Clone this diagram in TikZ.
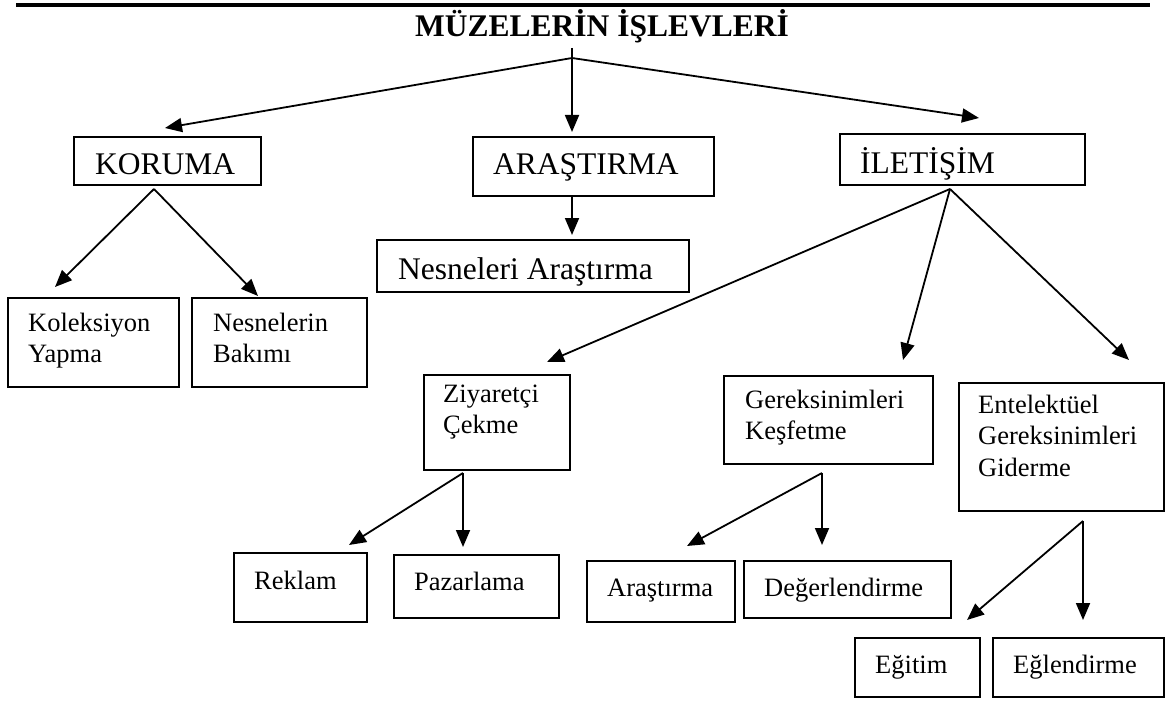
\documentclass[tikz,border=0pt]{standalone}
\usepackage{fontspec}
\setmainfont{Liberation Serif}
\usetikzlibrary{arrows.meta}
\newcommand{\lines}[1]{\begin{tabular}[t]{@{}l@{}}#1\end{tabular}}
\begin{document}
\begin{tikzpicture}[x=1pt,y=-1pt,
  box/.style={draw, line width=1.8pt, inner sep=0pt, anchor=north west},
  big/.style={inner sep=0pt, anchor=base west, font=\fontsize{31.5}{36}\selectfont},
  small/.style={inner sep=0pt, anchor=base west, font=\fontsize{26.5}{31.5}\selectfont},
  arr/.style={line width=1.8pt, -{Triangle[length=17pt,width=14pt]}},
  ln/.style={line width=1.8pt}]
\useasboundingbox (0,0) rectangle (1167,706);
% top rule
\coordinate (r1) at (16,5);
\coordinate (r2) at (1150,5);
\draw[line width=3.2pt] (r1) -- (r2);
% title
\node[inner sep=0pt, anchor=base west, font=\fontsize{31.5}{36}\selectfont\bfseries] (title) at (415,37) {MÜZELERİN İŞLEVLERİ};
% level-1 boxes
\node[box, minimum width=187pt, minimum height=48pt] (koruma) at (73,136) {};
\node[big] (tkoruma) at (95,174) {KORUMA};
\node[box, minimum width=241pt, minimum height=59pt] (arastirma) at (472,136) {};
\node[big] (tarastirma) at (493,175) {ARAŞTIRMA};
\node[box, minimum width=245pt, minimum height=51pt] (iletisim) at (839,133) {};
\node[big] (tiletisim) at (860,173) {İLETİŞİM};
\node[box, minimum width=312pt, minimum height=52pt] (nesara) at (376,239) {};
\node[big] (tnesara) at (398,279) {Nesneleri Araştırma};
% title connectors
\coordinate (top) at (572,48);
\coordinate (a0) at (572,58);
\coordinate (tk) at (165,128);
\coordinate (ta) at (572,132);
\coordinate (ti) at (979,118);
\draw[arr] (top) -- (ta);
\draw[arr] (a0) -- (tk);
\draw[arr] (a0) -- (ti);
% araştırma -> nesneleri
\coordinate (ab) at (572,195);
\coordinate (tn) at (572,235);
\draw[arr] (ab) -- (tn);
% koruma children
\node[box, minimum width=171pt, minimum height=89pt] (kol) at (7,297) {};
\node[small] (tkol) at (28,331) {\lines{Koleksiyon\\Yapma}};
\node[box, minimum width=175pt, minimum height=89pt] (bak) at (191,297) {};
\node[small] (tbak) at (213,331) {\lines{Nesnelerin\\Bakımı}};
\coordinate (ak) at (154,189);
\coordinate (tkol1) at (55,287);
\coordinate (tbak1) at (258,296);
\draw[arr] (ak) -- (tkol1);
\draw[arr] (ak) -- (tbak1);
% iletisim children
\node[box, minimum width=146pt, minimum height=95pt] (ziy) at (423,374) {};
\node[small] (tziy) at (443,402) {\lines{Ziyaretçi\\Çekme}};
\node[box, minimum width=209pt, minimum height=88pt] (ger) at (723,375) {};
\node[small] (tger) at (745,408) {\lines{Gereksinimleri\\Keşfetme}};
\node[box, minimum width=205pt, minimum height=128pt] (ent) at (958,382) {};
\node[small] (tent) at (978,413) {\lines{Entelektüel\\Gereksinimleri\\Giderme}};
\coordinate (ai) at (950,189);
\coordinate (tz) at (547,362);
\coordinate (tg) at (903,360);
\coordinate (te) at (1129,360);
\draw[arr] (ai) -- (tz);
\draw[arr] (ai) -- (tg);
\draw[arr] (ai) -- (te);
% ziyaretci children
\node[box, minimum width=133pt, minimum height=69pt] (rek) at (233,552) {};
\node[small] (trek) at (254,589) {Reklam};
\node[box, minimum width=165pt, minimum height=63pt] (paz) at (393,554) {};
\node[small] (tpaz) at (414,590) {Pazarlama};
\coordinate (az) at (463,473);
\coordinate (tr) at (349,545);
\coordinate (tp) at (463,547);
\draw[arr] (az) -- (tr);
\draw[arr] (az) -- (tp);
% gereksinimleri children
\node[box, minimum width=148pt, minimum height=61pt] (ara) at (586,560) {};
\node[small] (tara) at (607,596) {Araştırma};
\node[box, minimum width=207pt, minimum height=57pt] (deg) at (743,560) {};
\node[small] (tdeg) at (764,596) {Değerlendirme};
\coordinate (ag) at (822,473);
\coordinate (ta2) at (687,546);
\coordinate (td) at (822,545);
\draw[arr] (ag) -- (ta2);
\draw[arr] (ag) -- (td);
% entelektuel children
\node[box, minimum width=125pt, minimum height=59pt] (egi) at (854,637) {};
\node[small] (tegi) at (875,673) {Eğitim};
\node[box, minimum width=171pt, minimum height=59pt] (egl) at (992,637) {};
\node[small] (tegl) at (1013,673) {Eğlendirme};
\coordinate (ae) at (1083,521);
\coordinate (tei) at (967,620);
\coordinate (tel) at (1083,620);
\draw[arr] (ae) -- (tei);
\draw[arr] (ae) -- (tel);
\end{tikzpicture}
\end{document}
